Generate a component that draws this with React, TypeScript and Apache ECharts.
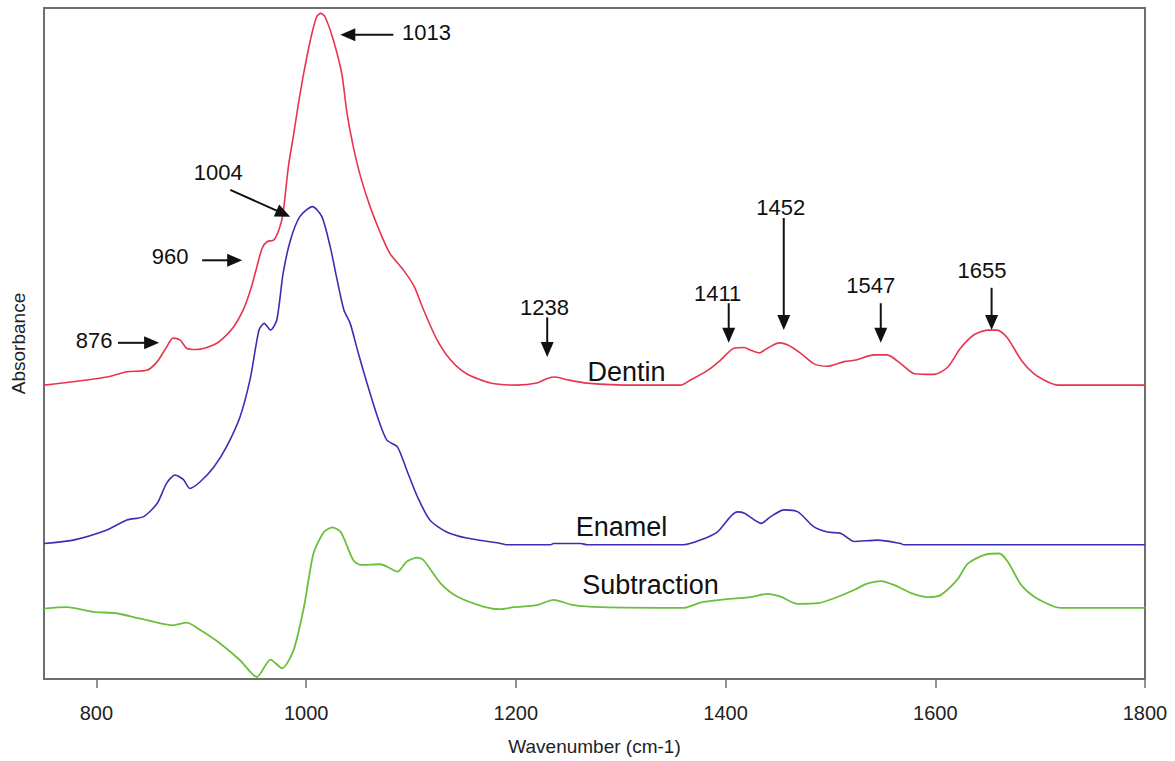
import React, { useEffect, useRef } from "react";
import * as echarts from "echarts";

// Wavenumber (cm-1), absorbance (arbitrary, offset) pairs
const dentin: number[][] = [
  [750, 43.8], [778, 44.3], [810, 45.0], [829, 45.8], [848, 46.0], [858, 47.3], [867, 49.5], [873, 50.8],
  [880, 50.5], [886, 49.3], [896, 49.1], [912, 49.8], [921, 50.8], [931, 52.5], [940, 55.0], [947, 58.0],
  [953, 61.4], [958, 64.2], [963, 65.2], [969, 65.4], [974, 66.9], [978, 69.4], [983, 76.3], [988, 81.1],
  [992, 85.1], [997, 89.7], [1004, 95.2], [1010, 98.7], [1014, 99.2], [1018, 98.7], [1026, 95.2], [1034, 90.2],
  [1039, 84.3], [1045, 79.3], [1052, 74.8], [1061, 70.4], [1071, 66.4], [1080, 63.4], [1093, 60.9], [1103, 58.5],
  [1112, 55.0], [1125, 50.5], [1138, 47.5], [1153, 45.5], [1176, 44.1], [1201, 43.8], [1220, 44.1], [1230, 44.8],
  [1238, 45.0], [1249, 44.6], [1268, 44.1], [1313, 43.8], [1357, 43.8], [1367, 44.6], [1383, 46.0], [1395, 47.5],
  [1408, 49.3], [1418, 49.4], [1424, 49.0], [1432, 48.6], [1440, 49.3], [1451, 50.1], [1459, 49.8], [1472, 48.5],
  [1484, 47.0], [1497, 46.6], [1513, 47.3], [1523, 47.5], [1542, 48.3], [1554, 48.3], [1567, 47.0], [1580, 45.5],
  [1599, 45.4], [1612, 46.5], [1624, 49.3], [1637, 51.3], [1650, 52.0], [1659, 52.0], [1669, 50.8], [1682, 47.5],
  [1694, 45.5], [1707, 44.3], [1717, 43.8], [1800, 43.8],
];

const enamel: number[][] = [
  [750, 20.2], [778, 20.7], [810, 22.2], [829, 23.7], [845, 24.2], [858, 26.2], [867, 29.2], [875, 30.4],
  [883, 29.7], [889, 28.4], [899, 29.4], [912, 31.6], [924, 34.6], [937, 39.1], [947, 45.0], [955, 52.0],
  [960, 53.0], [966, 52.0], [972, 53.5], [978, 60.4], [985, 65.4], [994, 68.9], [1006, 70.4], [1015, 68.9],
  [1023, 64.4], [1029, 59.9], [1036, 55.0], [1042, 53.0], [1049, 49.0], [1058, 44.1], [1068, 39.1], [1077, 35.6],
  [1087, 34.6], [1096, 31.1], [1106, 27.2], [1118, 23.7], [1134, 21.9], [1153, 21.0], [1182, 20.3], [1192, 20.0],
  [1233, 20.0], [1236, 20.2], [1262, 20.2], [1268, 20.0], [1360, 20.0], [1376, 20.7], [1392, 21.9], [1411, 24.9],
  [1418, 24.7], [1434, 23.2], [1443, 24.2], [1456, 25.2], [1469, 24.9], [1484, 22.7], [1497, 21.9], [1510, 21.7],
  [1523, 20.5], [1545, 20.7], [1567, 20.2], [1570, 20.0], [1800, 20.0],
];

const subtraction: number[][] = [
  [750, 10.5], [772, 10.7], [797, 10.0], [819, 9.8], [842, 9.0], [873, 8.0], [886, 8.4], [899, 7.3],
  [918, 5.3], [937, 2.8], [953, 0.3], [966, 2.9], [977, 1.6], [988, 4.3], [998, 10.8], [1007, 18.7],
  [1017, 21.9], [1025, 22.6], [1033, 21.9], [1045, 17.7], [1052, 17.0], [1071, 17.1], [1080, 16.5], [1087, 16.0],
  [1096, 17.5], [1106, 18.1], [1112, 17.7], [1128, 14.3], [1144, 12.3], [1169, 10.8], [1185, 10.4], [1198, 10.7],
  [1220, 11.0], [1236, 11.8], [1255, 11.0], [1281, 10.7], [1360, 10.6], [1376, 11.4], [1395, 11.8], [1424, 12.2],
  [1440, 12.7], [1452, 12.3], [1469, 11.2], [1488, 11.3], [1503, 12.0], [1523, 13.3], [1535, 14.2], [1548, 14.6],
  [1561, 14.0], [1577, 12.8], [1593, 12.2], [1605, 12.5], [1621, 14.8], [1631, 17.2], [1647, 18.5], [1661, 18.7],
  [1669, 17.5], [1682, 14.0], [1694, 12.3], [1713, 10.8], [1720, 10.6], [1800, 10.6],
];

const xTickValues = [800, 1000, 1200, 1400, 1600, 1800];

// Peak annotations (data coordinates)
const peakLabels = ["876", "960", "1004", "1013", "1238", "1411", "1452", "1547", "1655"];
const peakLabelWn = [797.7, 870.3, 916.1, 1114.7, 1227.3, 1392.5, 1452.6, 1538.5, 1644.5];
const peakLabelAbs = [50.4, 62.9, 75.5, 96.4, 55.4, 57.5, 70.2, 58.7, 60.9];
const arrowFromWn = [820.6, 900.8, 927.6, 1083.2, 1229.9, 1403.0, 1455.5, 1548.0, 1653.7];
const arrowFromAbs = [50.1, 62.4, 72.9, 96.0, 53.9, 56.0, 68.7, 56.0, 58.3];
const arrowToWn = [859.8, 939.0, 984.8, 1032.6, 1229.9, 1403.0, 1455.5, 1548.0, 1653.7];
const arrowToAbs = [50.1, 62.4, 68.9, 96.0, 48.0, 50.1, 52.0, 50.1, 52.0];

const seriesNames = ["Dentin", "Enamel", "Subtraction"];
const seriesLabelWn = [1305.6, 1300.8, 1328.5];
const seriesLabelAbs = [45.7, 22.6, 14.0];

const FONT = "'Liberation Sans', Arial, sans-serif";

export default function App() {
  const ref = useRef<HTMLDivElement>(null);

  useEffect(() => {
    if (!ref.current) return;
    const chart = echarts.init(ref.current, null, { renderer: "svg" });
    const axisColor = "#6e6e6e";
    const lineCommon = { type: "line", showSymbol: false, smooth: 0.25, z: 3 };
    chart.setOption({
      animation: false,
      backgroundColor: "#ffffff",
      grid: {
        left: 44, right: 30, top: 8, bottom: 82,
        show: true, borderColor: axisColor, borderWidth: 2, containLabel: false,
      },
      xAxis: {
        type: "value", min: 750, max: 1800,
        name: "Wavenumber (cm-1)", nameLocation: "middle", nameGap: 58,
        nameTextStyle: { fontFamily: FONT, fontSize: 19, color: "#222" },
        axisLine: { show: true, lineStyle: { color: axisColor, width: 2 } },
        axisTick: { show: true, inside: false, length: 9, customValues: xTickValues, lineStyle: { color: axisColor, width: 1.5 } },
        axisLabel: {
          customValues: xTickValues, fontFamily: FONT, fontSize: 20, color: "#222", margin: 24,
          formatter: (v: number) => String(v),
        },
        splitLine: { show: false },
      },
      yAxis: {
        type: "value", min: 0, max: 100,
        name: "Absorbance", nameLocation: "middle", nameGap: 16,
        nameTextStyle: { fontFamily: FONT, fontSize: 19, color: "#222" },
        axisLine: { show: true, lineStyle: { color: axisColor, width: 2 } },
        axisTick: { show: false },
        axisLabel: { show: false },
        splitLine: { show: false },
      },
      series: [
        { ...lineCommon, name: "Dentin", data: dentin, lineStyle: { color: "#e8344c", width: 1.6 }, itemStyle: { color: "#e8344c" } },
        { ...lineCommon, name: "Enamel", data: enamel, lineStyle: { color: "#3a2fb4", width: 1.6 }, itemStyle: { color: "#3a2fb4" } },
        { ...lineCommon, name: "Subtraction", data: subtraction, lineStyle: { color: "#6cbf3c", width: 1.8 }, itemStyle: { color: "#6cbf3c" } },
      ],
    });

    const elements: any[] = [];
    peakLabels.forEach((lab, i) => {
      const t = chart.convertToPixel({ gridIndex: 0 }, [peakLabelWn[i], peakLabelAbs[i]]) as number[];
      const a = chart.convertToPixel({ gridIndex: 0 }, [arrowFromWn[i], arrowFromAbs[i]]) as number[];
      const b = chart.convertToPixel({ gridIndex: 0 }, [arrowToWn[i], arrowToAbs[i]]) as number[];
      const dx = b[0] - a[0];
      const dy = b[1] - a[1];
      const len = Math.hypot(dx, dy) || 1;
      const ux = dx / len;
      const uy = dy / len;
      const head = 15;
      const half = 6.5;
      const bx = b[0] - ux * head;
      const by = b[1] - uy * head;
      elements.push({
        type: "line", z: 10,
        shape: { x1: a[0], y1: a[1], x2: bx + ux * 2, y2: by + uy * 2 },
        style: { stroke: "#111", lineWidth: 2 },
      });
      elements.push({
        type: "polygon", z: 10,
        shape: { points: [[b[0], b[1]], [bx - uy * half, by + ux * half], [bx + uy * half, by - ux * half]] },
        style: { fill: "#111" },
      });
      elements.push({
        type: "text", z: 10, x: t[0], y: t[1],
        style: {
          text: lab, fontFamily: FONT, fontSize: 22, fill: "#111",
          align: "center", verticalAlign: "middle", textAlign: "center", textVerticalAlign: "middle",
        },
      });
    });
    seriesNames.forEach((nm, i) => {
      const p = chart.convertToPixel({ gridIndex: 0 }, [seriesLabelWn[i], seriesLabelAbs[i]]) as number[];
      elements.push({
        type: "text", z: 10, x: p[0], y: p[1],
        style: {
          text: nm, fontFamily: FONT, fontSize: 27, fill: "#111",
          align: "center", verticalAlign: "middle", textAlign: "center", textVerticalAlign: "middle",
        },
      });
    });
    chart.setOption({ graphic: elements });

    return () => chart.dispose();
  }, []);

  return (
    <div
      ref={ref}
      style={{ position: "fixed", left: 0, top: 0, width: 1175, height: 761, background: "#fff" }}
    />
  );
}
